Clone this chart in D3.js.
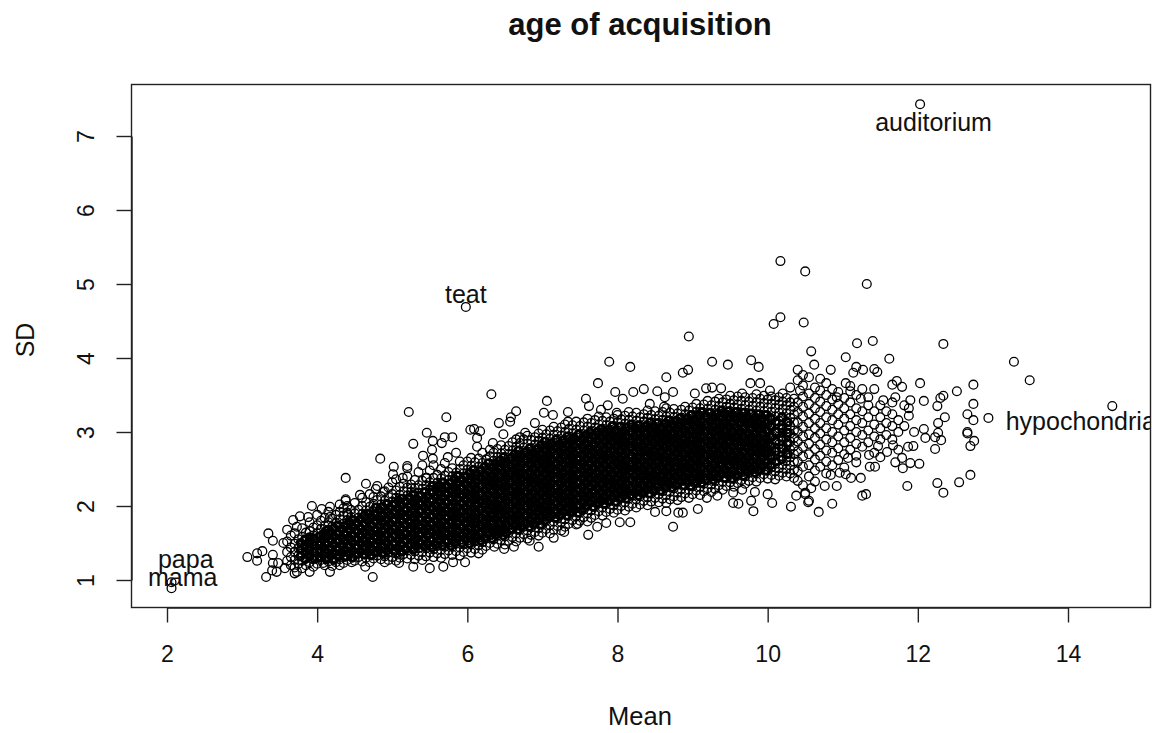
<!DOCTYPE html>
<html><head><meta charset="utf-8">
<script src="https://cdn.jsdelivr.net/npm/d3@7"></script>
<style>html,body{margin:0;background:#fff}svg{display:block}text{font-family:"Liberation Sans",Arial,sans-serif;fill:#111}</style>
</head><body><div id="chart"></div>
<script>
const chartTitle = "age of acquisition";
const xLabel = "Mean";
const yLabel = "SD";
const xTicks = [2,4,6,8,10,12,14];
const yTicks = [1,2,3,4,5,6,7];
const wordLabels = [["auditorium",12.21,7.18],["teat",5.98,4.86],["hypochondria",14.17,3.15],["papa",2.25,1.28],["mama",2.21,1.04]];
const namedPoints = [[12.03,7.43],[5.98,4.69],[14.59,3.35],[2.06,0.97],[2.06,0.89]];
const highPoints = [[10.17,5.31],[10.5,5.17],[11.32,5.0],[10.08,4.46],[10.17,4.55],[10.48,4.48],[8.95,4.29],[13.28,3.95],[13.49,3.7],[6.32,3.51],[7.89,3.95],[8.17,3.88],[7.74,3.66],[8.65,3.74],[8.87,3.8],[8.94,3.84],[9.26,3.95],[9.47,3.91],[9.78,3.97],[9.88,3.88],[7.06,3.42],[7.58,3.45],[7.62,3.35],[7.97,3.54],[8.21,3.54],[8.35,3.58],[8.53,3.55],[8.74,3.54],[9.03,3.52],[9.18,3.59],[9.26,3.6],[9.38,3.59],[9.77,3.66],[9.9,3.66],[6.65,3.28],[6.58,3.2],[6.57,3.14],[6.42,3.12],[6.09,3.04],[6.17,3.01],[6.13,2.92],[6.13,2.8],[6.9,3.12],[7.02,3.26],[7.14,3.23],[7.34,3.27],[7.34,3.14],[6.77,2.99],[6.7,2.93],[6.48,2.97],[6.34,2.85],[7.78,3.3],[7.87,3.36],[7.99,3.26],[8.07,3.45],[8.43,3.38],[8.62,3.34],[8.63,3.47],[10.3,3.6],[10.43,3.56],[10.03,3.56],[9.66,3.52]];
const leftPoints = [[5.22,3.27],[5.72,3.2],[6.04,3.03],[5.46,2.99],[5.28,2.84],[5.54,2.88],[5.8,2.93],[5.7,2.93],[5.66,2.85],[5.53,2.76],[5.41,2.68],[5.54,2.64],[5.74,2.66],[4.84,2.64],[5.02,2.53],[5.2,2.54],[5.2,2.51],[5.01,2.43],[5.0,2.32],[5.14,2.38],[4.38,2.38],[4.65,2.3],[4.78,2.23],[4.57,2.15],[4.38,2.09],[4.38,2.07],[4.88,2.19],[5.26,2.24],[5.46,2.38],[3.93,2.0],[4.06,1.96],[4.17,1.99],[4.3,1.92],[4.41,1.88],[3.77,1.86],[3.68,1.81],[3.88,1.85],[4.17,1.85],[3.6,1.68],[3.73,1.72],[3.35,1.63],[3.41,1.53],[3.27,1.39],[3.2,1.36],[3.07,1.31],[3.2,1.26],[3.41,1.34],[3.55,1.5],[3.32,1.04],[3.4,1.13],[3.41,1.23],[3.48,1.23],[3.57,1.16],[3.7,1.09],[3.9,1.11],[4.17,1.11],[4.46,1.24],[4.64,1.18],[4.74,1.04],[4.9,1.24],[5.09,1.23],[5.28,1.18],[5.5,1.16],[5.68,1.18],[5.81,1.24],[5.97,1.24],[4.3,1.2],[4.08,1.23],[3.73,1.11],[3.46,1.11]];
const lowPoints = [[8.74,1.72],[7.61,1.61],[6.95,1.45],[6.49,1.42],[6.62,1.45],[6.36,1.45],[6.83,1.53],[7.15,1.57],[7.29,1.65],[7.47,1.76],[7.73,1.72],[7.85,1.77],[8.03,1.78],[8.17,1.78],[8.5,1.92],[8.65,1.93],[8.81,1.91],[8.87,1.91],[9.07,1.96],[9.19,2.11],[9.33,2.14],[9.54,2.18],[9.54,2.04],[9.61,2.03],[9.78,2.07],[9.81,1.93],[10.06,2.04],[10.0,2.16],[10.31,1.99],[10.38,2.14],[10.5,2.16],[10.54,2.05],[9.83,2.19],[9.66,2.22]];
const rightPoints = [[11.19,4.2],[11.4,4.23],[12.34,4.19],[10.58,4.09],[11.04,4.01],[11.62,3.99],[10.62,3.91],[11.18,3.88],[10.84,3.84],[11.27,3.84],[11.42,3.85],[11.46,3.81],[11.14,3.8],[12.74,3.64],[12.52,3.55],[12.03,3.66],[11.72,3.69],[11.66,3.64],[11.79,3.61],[11.04,3.66],[11.1,3.55],[11.7,3.47],[12.34,3.49],[12.3,3.46],[12.08,3.42],[11.9,3.43],[11.54,3.43],[11.34,3.47],[11.24,3.45],[10.92,3.47],[12.74,3.38],[12.66,3.24],[12.74,3.16],[12.94,3.19],[12.26,3.35],[11.88,3.22],[11.88,3.32],[12.36,3.2],[12.27,3.12],[12.27,2.99],[12.23,2.93],[12.31,2.89],[12.66,3.0],[12.66,2.98],[12.75,2.88],[12.7,2.81],[12.23,2.77],[12.1,2.92],[12.08,3.04],[11.95,3.0],[11.94,2.81],[11.87,2.8],[11.67,2.82],[11.59,2.73],[11.47,2.81],[11.35,2.69],[12.02,2.57],[11.9,2.58],[11.79,2.65],[11.7,2.59],[11.8,2.51],[11.43,2.53],[11.36,2.53],[11.18,2.59],[11.07,2.65],[12.7,2.42],[12.55,2.32],[12.26,2.31],[12.34,2.18],[11.86,2.27],[11.31,2.16],[11.26,2.14],[11.24,2.38],[11.11,2.38],[11.04,2.43],[10.96,2.45],[10.84,2.42],[10.92,2.27],[10.76,2.27],[10.58,2.24],[10.55,2.07],[10.86,2.03],[10.68,1.92],[10.5,2.18]];
const sparseColumns = [
[10.4,[2.34,2.47,2.6,2.74,2.87,3.0,3.13,3.27,3.4,3.7,3.84]],
[10.47,[2.28,2.53,2.67,2.8,2.94,3.07,3.21,3.34,3.48,3.63,3.77]],
[10.55,[2.4,2.55,2.7,2.84,2.97,3.12,3.25,3.38,3.52,3.74]],
[10.63,[2.33,2.48,2.63,2.77,2.92,3.05,3.18,3.32,3.46,3.6]],
[10.7,[2.53,2.68,2.83,2.98,3.12,3.27,3.41,3.56,3.72]],
[10.78,[2.44,2.6,2.75,2.9,3.05,3.2,3.35,3.5,3.66]],
[10.86,[2.55,2.72,2.86,3.0,3.16,3.3,3.44,3.58]],
[10.94,[2.62,2.78,2.94,3.1,3.24,3.38,3.54]],
[11.02,[2.52,2.7,2.86,3.02,3.18,3.32,3.46]],
[11.1,[2.76,2.92,3.08,3.24,3.4,3.62]],
[11.18,[2.68,2.84,3.0,3.16,3.32,3.5]],
[11.26,[2.8,2.96,3.12,3.28,3.58]],
[11.34,[2.86,3.02,3.2,3.36]],
[11.42,[2.72,2.94,3.1,3.28,3.58]],
[11.5,[2.66,2.9,3.05,3.2,3.36]],
[11.58,[2.96,3.12,3.28]],
[11.66,[2.9,3.08,3.24,3.4]],
[11.74,[2.76,3.0,3.16]],
[11.82,[3.08,3.36]]];
const sdColumns = [
[3.6,[1.26,1.38,1.52]],
[3.65,[1.2,1.31,1.44,1.6]],
[3.7,[1.17,1.27,1.38,1.49,1.63]],
[3.75,[1.22,1.33,1.43,1.55]],
[3.8,[1.16,1.26,1.36,1.47,1.58,1.7]],
[3.85,[1.2,1.3,1.41,1.52,1.64]],
[3.9,[1.24,1.34,1.44,1.55,1.66,1.78]],
[3.95,[1.18,1.28,1.38,1.49,1.6,1.71]],
[4.0,[1.22,1.32,1.42,1.52,1.63,1.74,1.88]],
[4.05,[1.27,1.37,1.47,1.58,1.69,1.8]],
[4.1,[1.2,1.31,1.41,1.52,1.63,1.73,1.84]],
[4.15,[1.25,1.36,1.46,1.57,1.68,1.78,1.92]],
[4.2,[1.19,1.3,1.4,1.51,1.62,1.72,1.83]],
[4.25,[1.24,1.35,1.45,1.56,1.67,1.77,1.88]],
[4.3,[1.28,1.39,1.5,1.6,1.71,1.82,2.02]],
[4.35,[1.23,1.33,1.44,1.55,1.66,1.76,1.87,1.97]],
[4.4,[1.27,1.38,1.49,1.59,1.7,1.81,1.91,2.0]],
[4.45,[1.32,1.43,1.53,1.64,1.75,1.85,1.95]],
[4.5,[1.26,1.37,1.47,1.58,1.69,1.8,1.9,2.04]],
[4.55,[1.31,1.42,1.52,1.63,1.74,1.84,1.95]],
[4.6,[1.25,1.36,1.46,1.57,1.68,1.78,1.89,2.0,2.11]],
[4.65,[1.3,1.41,1.51,1.62,1.73,1.83,1.94,2.05]],
[4.7,[1.24,1.35,1.45,1.56,1.67,1.77,1.88,1.99,2.16]],
[4.75,[1.29,1.39,1.5,1.61,1.71,1.82,1.93,2.03,2.12]],
[4.8,[1.33,1.44,1.54,1.65,1.76,1.86,1.97,2.08,2.27]],
[4.85,[1.28,1.38,1.49,1.6,1.7,1.81,1.91,2.02,2.13]],
[4.9,[1.32,1.43,1.53,1.64,1.75,1.85,1.96,2.07,2.2]],
[4.95,[1.27,1.37,1.48,1.59,1.69,1.8,1.9,2.01,2.12,2.25]],
[5.0,[1.31,1.42,1.52,1.63,1.74,1.84,1.95,2.06,2.16]],
[5.05,[1.26,1.36,1.47,1.58,1.68,1.79,1.89,2.0,2.11,2.21,2.36]],
[5.1,[1.3,1.41,1.51,1.62,1.73,1.83,1.94,2.05,2.15,2.26]],
[5.15,[1.35,1.45,1.56,1.67,1.77,1.88,1.98,2.09,2.2,2.3]],
[5.2,[1.29,1.4,1.5,1.61,1.72,1.82,1.93,2.04,2.14,2.25,2.4]],
[5.25,[1.34,1.44,1.55,1.66,1.76,1.87,1.97,2.08,2.19,2.29]],
[5.3,[1.28,1.39,1.49,1.6,1.71,1.81,1.92,2.03,2.13,2.24,2.35]],
[5.35,[1.33,1.43,1.54,1.65,1.75,1.86,1.96,2.07,2.18,2.28,2.46]],
[5.4,[1.27,1.38,1.48,1.59,1.7,1.8,1.91,2.02,2.12,2.23,2.34,2.55]],
[5.45,[1.32,1.43,1.53,1.64,1.74,1.85,1.96,2.06,2.17,2.28,2.38]],
[5.5,[1.37,1.47,1.58,1.69,1.79,1.9,2.0,2.11,2.22,2.32,2.48]],
[5.55,[1.31,1.42,1.52,1.63,1.74,1.84,1.95,2.06,2.16,2.27,2.38,2.55]],
[5.6,[1.36,1.46,1.57,1.68,1.78,1.89,1.99,2.1,2.21,2.31,2.42]],
[5.65,[1.3,1.41,1.51,1.62,1.73,1.83,1.94,2.05,2.15,2.26,2.37,2.5]],
[5.7,[1.35,1.45,1.56,1.67,1.77,1.88,1.98,2.09,2.2,2.3,2.41,2.58]],
[5.75,[1.4,1.5,1.61,1.71,1.82,1.93,2.03,2.14,2.25,2.35,2.46]],
[5.8,[1.34,1.45,1.55,1.66,1.77,1.87,1.98,2.08,2.19,2.3,2.4,2.51]],
[5.85,[1.39,1.49,1.6,1.71,1.81,1.92,2.02,2.13,2.24,2.34,2.45,2.72]],
[5.9,[1.33,1.44,1.54,1.65,1.76,1.86,1.97,2.07,2.18,2.29,2.39,2.5,2.6]],
[5.95,[1.38,1.48,1.59,1.7,1.8,1.91,2.01,2.12,2.23,2.33,2.44,2.55]],
[6.0,[1.43,1.53,1.64,1.75,1.85,1.96,2.06,2.17,2.28,2.38,2.49,2.6]],
[6.05,[1.37,1.48,1.58,1.69,1.8,1.9,2.01,2.11,2.22,2.33,2.43,2.54,2.65]],
[6.1,[1.42,1.52,1.63,1.74,1.84,1.95,2.05,2.16,2.27,2.37,2.48,2.59]],
[6.15,[1.36,1.47,1.57,1.68,1.79,1.89,2.0,2.1,2.21,2.32,2.42,2.53,2.64]],
[6.2,[1.41,1.51,1.62,1.73,1.83,1.94,2.04,2.15,2.26,2.36,2.47,2.58,2.72]],
[6.25,[1.46,1.56,1.67,1.77,1.88,1.99,2.09,2.2,2.31,2.41,2.52,2.63]],
[6.3,[1.5,1.61,1.71,1.82,1.93,2.03,2.14,2.25,2.35,2.46,2.57,2.67,2.76]],
[6.35,[1.55,1.66,1.76,1.87,1.98,2.08,2.19,2.29,2.4,2.51,2.61,2.72]],
[6.4,[1.49,1.6,1.7,1.81,1.92,2.02,2.13,2.24,2.34,2.45,2.56,2.66,2.77]],
[6.45,[1.54,1.65,1.75,1.86,1.97,2.07,2.18,2.29,2.39,2.5,2.61,2.71,2.82]],
[6.5,[1.48,1.59,1.7,1.8,1.91,2.02,2.12,2.23,2.34,2.44,2.55,2.66,2.76]],
[6.55,[1.53,1.64,1.74,1.85,1.96,2.06,2.17,2.28,2.38,2.49,2.6,2.7,2.81]],
[6.6,[1.58,1.69,1.79,1.9,2.01,2.11,2.22,2.33,2.43,2.54,2.65,2.75,2.86]],
[6.65,[1.52,1.63,1.73,1.84,1.95,2.05,2.16,2.27,2.37,2.48,2.59,2.69,2.8,2.9]],
[6.7,[1.57,1.68,1.78,1.89,2.0,2.1,2.21,2.32,2.42,2.53,2.64,2.74,2.85]],
[6.75,[1.62,1.72,1.83,1.94,2.04,2.15,2.26,2.36,2.47,2.58,2.68,2.79,2.9]],
[6.8,[1.56,1.67,1.77,1.88,1.99,2.09,2.2,2.31,2.41,2.52,2.63,2.73,2.84,2.95]],
[6.85,[1.61,1.71,1.82,1.93,2.03,2.14,2.25,2.35,2.46,2.57,2.67,2.78,2.89]],
[6.9,[1.65,1.76,1.87,1.97,2.08,2.19,2.29,2.4,2.51,2.61,2.72,2.83,2.93]],
[6.95,[1.6,1.7,1.81,1.92,2.02,2.13,2.24,2.34,2.45,2.56,2.66,2.77,2.88,2.98]],
[7.0,[1.64,1.75,1.86,1.96,2.07,2.18,2.28,2.39,2.5,2.6,2.71,2.82,2.92,3.03]],
[7.05,[1.69,1.8,1.9,2.01,2.12,2.22,2.33,2.44,2.54,2.65,2.76,2.86,2.97]],
[7.1,[1.63,1.74,1.85,1.95,2.06,2.17,2.27,2.38,2.49,2.59,2.7,2.81,2.91,3.02]],
[7.15,[1.68,1.79,1.89,2.0,2.11,2.21,2.32,2.43,2.53,2.64,2.75,2.85,2.96,3.07]],
[7.2,[1.73,1.83,1.94,2.05,2.15,2.26,2.37,2.47,2.58,2.69,2.79,2.9,3.01]],
[7.25,[1.67,1.78,1.88,1.99,2.1,2.2,2.31,2.42,2.52,2.63,2.74,2.84,2.95,3.06]],
[7.3,[1.72,1.82,1.93,2.04,2.14,2.25,2.36,2.46,2.57,2.68,2.78,2.89,3.0,3.1]],
[7.35,[1.76,1.87,1.98,2.08,2.19,2.3,2.4,2.51,2.62,2.72,2.83,2.94,3.04]],
[7.4,[1.81,1.92,2.02,2.13,2.24,2.34,2.45,2.56,2.66,2.77,2.88,2.98,3.09]],
[7.45,[1.75,1.86,1.97,2.07,2.18,2.29,2.39,2.5,2.61,2.71,2.82,2.93,3.03,3.14]],
[7.5,[1.8,1.91,2.01,2.12,2.23,2.33,2.44,2.55,2.65,2.76,2.87,2.97,3.08]],
[7.55,[1.85,1.95,2.06,2.17,2.27,2.38,2.49,2.59,2.7,2.81,2.91,3.02,3.13]],
[7.6,[1.79,1.9,2.0,2.11,2.22,2.32,2.43,2.54,2.64,2.75,2.86,2.96,3.07,3.18]],
[7.65,[1.84,1.94,2.05,2.16,2.26,2.37,2.48,2.58,2.69,2.8,2.9,3.01,3.12]],
[7.7,[1.88,1.99,2.1,2.2,2.31,2.42,2.52,2.63,2.74,2.84,2.95,3.06,3.16]],
[7.75,[1.93,2.04,2.14,2.25,2.36,2.46,2.57,2.68,2.78,2.89,3.0,3.1,3.21]],
[7.8,[1.87,1.98,2.08,2.19,2.3,2.4,2.51,2.62,2.72,2.83,2.94,3.04,3.15]],
[7.85,[1.92,2.03,2.13,2.24,2.35,2.45,2.56,2.67,2.77,2.88,2.99,3.09,3.2]],
[7.9,[1.96,2.07,2.18,2.28,2.39,2.5,2.6,2.71,2.82,2.92,3.03,3.14]],
[7.95,[1.91,2.01,2.12,2.23,2.33,2.44,2.55,2.65,2.76,2.87,2.97,3.08,3.18]],
[8.0,[1.95,2.06,2.17,2.27,2.38,2.49,2.59,2.7,2.81,2.91,3.02,3.13,3.23]],
[8.05,[2.0,2.11,2.21,2.32,2.43,2.53,2.64,2.75,2.85,2.96,3.07,3.17]],
[8.1,[1.94,2.05,2.15,2.26,2.37,2.47,2.58,2.69,2.79,2.9,3.01,3.11,3.22]],
[8.15,[1.99,2.1,2.2,2.31,2.42,2.52,2.63,2.74,2.84,2.95,3.06,3.16,3.27]],
[8.2,[2.03,2.14,2.25,2.35,2.46,2.57,2.67,2.78,2.89,2.99,3.1,3.21]],
[8.25,[1.98,2.09,2.19,2.3,2.41,2.51,2.62,2.73,2.83,2.94,3.05,3.15,3.26]],
[8.3,[2.02,2.13,2.24,2.34,2.45,2.56,2.66,2.77,2.88,2.98,3.09,3.2]],
[8.35,[2.07,2.18,2.28,2.39,2.5,2.6,2.71,2.82,2.92,3.03,3.14,3.24]],
[8.4,[2.01,2.12,2.23,2.33,2.44,2.55,2.65,2.76,2.87,2.97,3.08,3.19,3.29]],
[8.45,[2.06,2.17,2.27,2.38,2.49,2.59,2.7,2.81,2.91,3.02,3.13,3.23]],
[8.5,[2.11,2.21,2.32,2.43,2.53,2.64,2.75,2.85,2.96,3.07,3.17,3.28]],
[8.55,[2.05,2.16,2.26,2.37,2.48,2.58,2.69,2.8,2.9,3.01,3.12,3.22]],
[8.6,[2.1,2.2,2.31,2.42,2.52,2.63,2.74,2.84,2.95,3.06,3.16,3.27]],
[8.65,[2.04,2.15,2.25,2.36,2.47,2.57,2.68,2.79,2.89,3.0,3.11,3.21,3.32]],
[8.7,[2.09,2.19,2.3,2.41,2.51,2.62,2.73,2.83,2.94,3.05,3.15,3.26]],
[8.75,[2.13,2.24,2.35,2.45,2.56,2.67,2.77,2.88,2.99,3.09,3.2,3.31]],
[8.8,[2.08,2.18,2.29,2.4,2.5,2.61,2.72,2.82,2.93,3.04,3.14,3.25]],
[8.85,[2.12,2.23,2.34,2.44,2.55,2.66,2.76,2.87,2.98,3.08,3.19,3.3]],
[8.9,[2.17,2.28,2.38,2.49,2.6,2.7,2.81,2.92,3.02,3.13,3.24,3.34]],
[8.95,[2.11,2.22,2.33,2.43,2.54,2.65,2.75,2.86,2.97,3.07,3.18,3.29]],
[9.0,[2.16,2.27,2.37,2.48,2.59,2.69,2.8,2.91,3.01,3.12,3.23,3.33]],
[9.05,[2.21,2.31,2.42,2.53,2.63,2.74,2.85,2.95,3.06,3.17,3.27,3.38]],
[9.1,[2.15,2.26,2.36,2.47,2.58,2.68,2.79,2.9,3.0,3.11,3.22,3.32]],
[9.15,[2.2,2.3,2.41,2.52,2.62,2.73,2.84,2.94,3.05,3.16,3.26,3.37]],
[9.2,[2.24,2.35,2.46,2.56,2.67,2.78,2.88,2.99,3.1,3.2,3.31,3.42]],
[9.25,[2.19,2.29,2.4,2.51,2.61,2.72,2.83,2.93,3.04,3.15,3.25,3.36]],
[9.3,[2.23,2.34,2.45,2.55,2.66,2.77,2.87,2.98,3.09,3.19,3.3,3.41]],
[9.35,[2.28,2.39,2.49,2.6,2.71,2.81,2.92,3.03,3.13,3.24,3.35,3.45]],
[9.4,[2.22,2.33,2.44,2.54,2.65,2.76,2.86,2.97,3.08,3.18,3.29,3.4]],
[9.45,[2.27,2.38,2.48,2.59,2.7,2.8,2.91,3.02,3.12,3.23,3.34,3.44]],
[9.5,[2.32,2.42,2.53,2.64,2.74,2.85,2.96,3.06,3.17,3.28,3.38,3.49]],
[9.55,[2.26,2.37,2.47,2.58,2.69,2.79,2.9,3.01,3.11,3.22,3.33,3.43]],
[9.6,[2.31,2.41,2.52,2.63,2.73,2.84,2.95,3.05,3.16,3.27,3.37,3.48]],
[9.65,[2.35,2.46,2.57,2.67,2.78,2.89,2.99,3.1,3.21,3.31,3.42]],
[9.7,[2.3,2.4,2.51,2.62,2.72,2.83,2.94,3.04,3.15,3.26,3.36,3.47]],
[9.75,[2.34,2.45,2.56,2.66,2.77,2.88,2.98,3.09,3.2,3.3,3.41]],
[9.8,[2.39,2.5,2.6,2.71,2.82,2.92,3.03,3.14,3.24,3.35,3.46]],
[9.85,[2.33,2.44,2.55,2.65,2.76,2.87,2.97,3.08,3.19,3.29,3.4,3.51]],
[9.9,[2.38,2.49,2.59,2.7,2.81,2.91,3.02,3.13,3.23,3.34,3.45]],
[9.95,[2.43,2.53,2.64,2.75,2.85,2.96,3.07,3.17,3.28,3.39,3.49]],
[10.0,[2.37,2.48,2.58,2.69,2.8,2.9,3.01,3.12,3.22,3.33,3.44]],
[10.05,[2.42,2.52,2.63,2.74,2.84,2.95,3.06,3.16,3.27,3.38,3.48]],
[10.1,[2.36,2.47,2.57,2.68,2.79,2.89,3.0,3.11,3.21,3.32,3.43]],
[10.15,[2.41,2.51,2.62,2.73,2.83,2.94,3.05,3.15,3.26,3.37,3.47]],
[10.2,[2.45,2.56,2.67,2.77,2.88,2.99,3.09,3.2,3.31,3.41,3.52]],
[10.25,[2.4,2.5,2.61,2.72,2.82,2.93,3.04,3.14,3.25,3.36,3.46]],
[10.3,[2.44,2.55,2.66,2.76,2.87,2.98,3.08,3.19,3.3,3.4]],
[10.35,[2.38,2.49,2.6,2.7,2.81,2.92,3.02,3.13,3.24,3.34,3.45]]];
const denseColumns = [
[3.78,[1.32,1.41,1.5]],
[3.84,[1.28,1.37,1.46,1.55]],
[3.9,[1.32,1.4,1.5,1.58]],
[3.96,[1.29,1.38,1.47,1.56]],
[4.03,[1.3,1.39,1.47,1.59]],
[4.08,[1.34,1.44,1.55,1.62]],
[4.12,[1.28,1.37,1.49,1.58,1.67]],
[4.18,[1.33,1.43,1.54,1.65]],
[4.22,[1.27,1.36,1.48,1.59,1.7]],
[4.28,[1.32,1.42,1.52,1.63,1.74]],
[4.33,[1.37,1.47,1.57,1.69]],
[4.37,[1.31,1.41,1.53,1.62,1.73]],
[4.43,[1.36,1.46,1.56,1.68,1.78]],
[4.47,[1.3,1.4,1.51,1.61,1.72,1.81]],
[4.53,[1.35,1.45,1.55,1.66,1.77]],
[4.58,[1.39,1.5,1.6,1.7,1.82]],
[4.63,[1.34,1.44,1.54,1.65,1.76,1.87]],
[4.68,[1.38,1.48,1.59,1.69,1.8,1.9]],
[4.72,[1.33,1.43,1.53,1.64,1.74,1.85]],
[4.78,[1.37,1.47,1.58,1.68,1.79,1.89,1.98]],
[4.83,[1.41,1.52,1.62,1.73,1.83,1.94]],
[4.87,[1.36,1.46,1.56,1.67,1.78,1.88,1.99]],
[4.93,[1.4,1.5,1.61,1.72,1.82,1.92,2.03]],
[4.97,[1.44,1.55,1.66,1.76,1.87,1.97]],
[5.03,[1.39,1.49,1.6,1.7,1.81,1.91,2.02]],
[5.08,[1.43,1.54,1.64,1.75,1.86,1.96,2.07]],
[5.12,[1.38,1.48,1.59,1.69,1.8,1.9,2.01,2.1]],
[5.18,[1.42,1.53,1.63,1.74,1.85,1.95,2.06]],
[5.23,[1.47,1.57,1.68,1.78,1.89,2.0,2.11]],
[5.28,[1.41,1.52,1.62,1.73,1.84,1.94,2.05,2.16]],
[5.32,[1.46,1.56,1.67,1.77,1.88,1.99,2.09]],
[5.37,[1.5,1.61,1.72,1.82,1.93,2.03,2.14]],
[5.43,[1.45,1.55,1.66,1.76,1.87,1.98,2.08,2.19]],
[5.47,[1.49,1.6,1.7,1.81,1.92,2.02,2.13]],
[5.53,[1.44,1.54,1.65,1.75,1.86,1.97,2.07,2.18,2.27]],
[5.58,[1.48,1.59,1.69,1.8,1.91,2.01,2.12,2.23]],
[5.63,[1.53,1.63,1.74,1.85,1.95,2.06,2.17,2.27]],
[5.67,[1.47,1.58,1.68,1.79,1.9,2.0,2.11,2.22,2.32]],
[5.73,[1.52,1.62,1.73,1.84,1.94,2.05,2.16,2.26]],
[5.78,[1.46,1.57,1.67,1.78,1.89,1.99,2.1,2.21,2.31]],
[5.83,[1.51,1.61,1.72,1.83,1.93,2.04,2.15,2.25,2.36]],
[5.87,[1.56,1.66,1.77,1.87,1.98,2.09,2.19,2.3,2.41]],
[5.93,[1.5,1.6,1.71,1.82,1.92,2.03,2.14,2.24,2.35]],
[5.98,[1.55,1.65,1.76,1.86,1.97,2.08,2.18,2.29,2.4]],
[6.03,[1.49,1.59,1.7,1.81,1.91,2.02,2.13,2.23,2.34,2.45]],
[6.08,[1.54,1.64,1.75,1.85,1.96,2.07,2.17,2.28,2.39,2.49]],
[6.12,[1.58,1.69,1.79,1.9,2.01,2.11,2.22,2.33,2.43]],
[6.18,[1.53,1.63,1.74,1.84,1.95,2.06,2.16,2.27,2.38,2.48]],
[6.23,[1.57,1.68,1.78,1.89,2.0,2.1,2.21,2.32,2.42,2.53]],
[6.28,[1.62,1.72,1.83,1.94,2.04,2.15,2.26,2.36,2.47,2.58]],
[6.33,[1.56,1.67,1.77,1.88,1.99,2.09,2.2,2.31,2.41,2.52]],
[6.38,[1.61,1.71,1.82,1.93,2.03,2.14,2.25,2.35,2.46,2.57]],
[6.42,[1.65,1.76,1.87,1.97,2.08,2.19,2.29,2.4,2.51,2.61]],
[6.48,[1.6,1.7,1.81,1.92,2.02,2.13,2.24,2.34,2.45,2.56,2.66]],
[6.52,[1.64,1.75,1.86,1.96,2.07,2.18,2.28,2.39,2.5,2.6]],
[6.58,[1.69,1.8,1.9,2.01,2.12,2.22,2.33,2.44,2.54,2.65]],
[6.63,[1.74,1.84,1.95,2.06,2.16,2.27,2.38,2.48,2.59,2.7]],
[6.68,[1.68,1.79,1.89,2.0,2.11,2.21,2.32,2.43,2.53,2.64,2.75]],
[6.72,[1.73,1.83,1.94,2.05,2.15,2.26,2.37,2.47,2.58,2.69]],
[6.78,[1.77,1.88,1.99,2.09,2.2,2.31,2.41,2.52,2.63,2.73]],
[6.83,[1.72,1.82,1.93,2.04,2.14,2.25,2.36,2.46,2.57,2.68,2.78]],
[6.88,[1.76,1.87,1.98,2.08,2.19,2.3,2.4,2.51,2.62,2.72]],
[6.93,[1.81,1.92,2.02,2.13,2.24,2.34,2.45,2.56,2.66,2.77]],
[6.98,[1.75,1.86,1.97,2.07,2.18,2.29,2.39,2.5,2.61,2.71,2.82]],
[7.03,[1.8,1.91,2.01,2.12,2.23,2.33,2.44,2.55,2.65,2.76,2.87]],
[7.08,[1.85,1.95,2.06,2.17,2.27,2.38,2.49,2.59,2.7,2.81]],
[7.12,[1.89,2.0,2.11,2.21,2.32,2.43,2.53,2.64,2.75,2.85]],
[7.18,[1.84,1.94,2.05,2.16,2.26,2.37,2.48,2.58,2.69,2.8,2.9]],
[7.23,[1.88,1.99,2.1,2.2,2.31,2.42,2.52,2.63,2.74,2.84]],
[7.28,[1.93,2.04,2.14,2.25,2.36,2.46,2.57,2.68,2.78,2.89]],
[7.33,[1.87,1.98,2.08,2.19,2.3,2.4,2.51,2.62,2.72,2.83,2.94]],
[7.38,[1.92,2.03,2.13,2.24,2.35,2.45,2.56,2.67,2.77,2.88]],
[7.42,[1.96,2.07,2.18,2.28,2.39,2.5,2.6,2.71,2.82,2.92]],
[7.48,[1.91,2.01,2.12,2.23,2.33,2.44,2.55,2.65,2.76,2.87,2.97]],
[7.53,[1.95,2.06,2.17,2.27,2.38,2.49,2.59,2.7,2.81,2.91]],
[7.58,[2.0,2.11,2.21,2.32,2.43,2.53,2.64,2.75,2.85,2.96]],
[7.63,[2.05,2.15,2.26,2.37,2.47,2.58,2.69,2.79,2.9,3.0]],
[7.68,[1.99,2.1,2.2,2.31,2.42,2.52,2.63,2.74,2.84,2.95]],
[7.73,[2.04,2.14,2.25,2.36,2.46,2.57,2.68,2.78,2.89,3.0]],
[7.78,[2.08,2.19,2.3,2.4,2.51,2.62,2.72,2.83,2.94,3.04]],
[7.83,[2.03,2.13,2.24,2.35,2.45,2.56,2.67,2.77,2.88,2.99]],
[7.88,[2.07,2.18,2.29,2.39,2.5,2.61,2.71,2.82,2.93,3.03]],
[7.93,[2.12,2.23,2.33,2.44,2.55,2.65,2.76,2.87,2.97,3.08]],
[7.98,[2.06,2.17,2.28,2.38,2.49,2.6,2.7,2.81,2.92,3.02]],
[8.03,[2.11,2.22,2.32,2.43,2.54,2.64,2.75,2.86,2.96,3.07]],
[8.08,[2.16,2.26,2.37,2.48,2.58,2.69,2.8,2.9,3.01]],
[8.12,[2.1,2.21,2.31,2.42,2.53,2.63,2.74,2.85,2.95,3.06]],
[8.18,[2.15,2.25,2.36,2.47,2.57,2.68,2.79,2.89,3.0,3.1]],
[8.23,[2.19,2.3,2.41,2.51,2.62,2.73,2.83,2.94,3.05]],
[8.28,[2.14,2.24,2.35,2.46,2.56,2.67,2.78,2.88,2.99,3.09]],
[8.33,[2.18,2.29,2.4,2.5,2.61,2.72,2.82,2.93,3.04]],
[8.38,[2.23,2.34,2.44,2.55,2.66,2.76,2.87,2.98,3.08]],
[8.43,[2.17,2.28,2.39,2.49,2.6,2.71,2.81,2.92,3.03,3.13]],
[8.48,[2.22,2.33,2.43,2.54,2.65,2.75,2.86,2.97,3.07]],
[8.53,[2.27,2.37,2.48,2.59,2.69,2.8,2.91,3.01,3.12]],
[8.58,[2.21,2.32,2.42,2.53,2.64,2.74,2.85,2.96,3.06]],
[8.63,[2.26,2.36,2.47,2.58,2.68,2.79,2.9,3.0,3.11]],
[8.68,[2.3,2.41,2.52,2.62,2.73,2.84,2.94,3.05,3.16]],
[8.73,[2.25,2.35,2.46,2.57,2.67,2.78,2.89,2.99,3.1]],
[8.78,[2.29,2.4,2.51,2.61,2.72,2.83,2.93,3.04,3.15]],
[8.83,[2.34,2.45,2.55,2.66,2.77,2.87,2.98,3.09,3.19]],
[8.88,[2.28,2.39,2.5,2.6,2.71,2.82,2.92,3.03,3.14]],
[8.93,[2.33,2.44,2.54,2.65,2.76,2.86,2.97,3.08,3.18]],
[8.98,[2.27,2.38,2.49,2.59,2.7,2.81,2.91,3.02,3.13,3.23]],
[9.03,[2.32,2.43,2.53,2.64,2.75,2.85,2.96,3.07,3.17]],
[9.08,[2.37,2.47,2.58,2.69,2.79,2.9,3.01,3.11,3.22]],
[9.12,[2.31,2.42,2.52,2.63,2.74,2.84,2.95,3.06,3.16,3.27]],
[9.18,[2.36,2.46,2.57,2.68,2.78,2.89,3.0,3.1,3.21]],
[9.23,[2.4,2.51,2.62,2.72,2.83,2.94,3.04,3.15,3.26]],
[9.28,[2.35,2.45,2.56,2.67,2.77,2.88,2.99,3.09,3.2]],
[9.33,[2.39,2.5,2.61,2.71,2.82,2.93,3.03,3.14,3.25]],
[9.38,[2.44,2.55,2.65,2.76,2.87,2.97,3.08,3.19,3.29]],
[9.43,[2.38,2.49,2.6,2.7,2.81,2.92,3.02,3.13,3.24]],
[9.48,[2.43,2.54,2.64,2.75,2.86,2.96,3.07,3.18,3.28]],
[9.53,[2.37,2.48,2.59,2.69,2.8,2.91,3.01,3.12,3.23]],
[9.58,[2.42,2.53,2.63,2.74,2.85,2.95,3.06,3.17,3.27]],
[9.63,[2.47,2.57,2.68,2.79,2.89,3.0,3.11,3.21]],
[9.68,[2.41,2.52,2.62,2.73,2.84,2.94,3.05,3.16,3.26]],
[9.73,[2.46,2.56,2.67,2.78,2.88,2.99,3.1,3.2]],
[9.78,[2.5,2.61,2.72,2.82,2.93,3.04,3.14,3.25]],
[9.83,[2.45,2.55,2.66,2.77,2.87,2.98,3.09,3.19]],
[9.88,[2.49,2.6,2.71,2.81,2.92,3.03,3.13,3.24]],
[9.93,[2.54,2.65,2.75,2.86,2.97,3.07,3.18]],
[9.98,[2.48,2.59,2.7,2.8,2.91,3.02,3.12,3.23]],
[10.04,[2.55,2.68,2.81,2.93,3.08,3.19]],
[10.11,[2.6,2.74,2.87,3.0,3.14]],
[10.19,[2.63,2.78,2.92,3.05,3.2]],
[10.27,[2.7,2.85,2.99,3.13]]];

const width = 1152, height = 733;
const x = d3.scaleLinear().domain([2,14]).range([167,1068]);
const y = d3.scaleLinear().domain([1,7]).range([580,136]);
const box = {left:131.5,right:1150.5,top:84.5,bottom:607.5};
const svg = d3.select("#chart").append("svg").attr("width",width).attr("height",height);
svg.append("defs").append("clipPath").attr("id","plotClip").append("rect")
  .attr("x",box.left).attr("y",box.top).attr("width",box.right-box.left).attr("height",box.bottom-box.top);
const toPoints = cols => cols.flatMap(([m,s])=>s.map(v=>[m,v]));
const points = [...toPoints(sdColumns),...toPoints(sparseColumns),...highPoints,...leftPoints,...lowPoints,...rightPoints,...namedPoints];
const plot = svg.append("g").attr("clip-path","url(#plotClip)");
// Overlapping rings in the centre of the cloud merge into solid black in the reference; heavier rings reproduce that.
plot.append("g").selectAll("circle").data(toPoints(denseColumns)).join("circle")
  .attr("cx",d=>x(d[0])).attr("cy",d=>y(d[1])).attr("r",3.6)
  .attr("fill","none").attr("stroke","#000").attr("stroke-width",2.7);
plot.append("g").selectAll("circle").data(points).join("circle")
  .attr("cx",d=>x(d[0])).attr("cy",d=>y(d[1])).attr("r",4.4)
  .attr("fill","none").attr("stroke","#000").attr("stroke-width",1.3);
plot.append("g").selectAll("text").data(wordLabels).join("text")
  .attr("x",d=>x(d[1])).attr("y",d=>y(d[2])).attr("dy","0.35em").attr("text-anchor","middle")
  .attr("font-size",25).text(d=>d[0]);
svg.append("rect").attr("x",box.left).attr("y",box.top).attr("width",box.right-box.left).attr("height",box.bottom-box.top)
  .attr("fill","none").attr("stroke","#222").attr("stroke-width",1.4);
const xAxis = svg.append("g").attr("transform",`translate(0,${box.bottom})`)
  .call(d3.axisBottom(x).tickValues(xTicks).tickFormat(d3.format("d")).tickSize(15).tickSizeOuter(0).tickPadding(23));
const yAxis = svg.append("g").attr("transform",`translate(${box.left},0)`)
  .call(d3.axisLeft(y).tickValues(yTicks).tickFormat(d3.format("d")).tickSize(15).tickSizeOuter(0));
[xAxis,yAxis].forEach(a=>{a.selectAll("path,line").attr("stroke","#222").attr("stroke-width",1.4);
  a.selectAll("text").attr("font-size",23).attr("font-family",null).style("font-family",'"Liberation Sans",Arial,sans-serif').attr("fill","#111");});
yAxis.selectAll("text").attr("text-anchor","middle").attr("x",0).attr("dy",null)
  .attr("dominant-baseline","central").attr("transform","translate(-46,0) rotate(-90)");
svg.append("text").attr("x",640).attr("y",35).attr("text-anchor","middle").attr("font-size",31).attr("font-weight","bold").text(chartTitle);
svg.append("text").attr("x",640).attr("y",725).attr("text-anchor","middle").attr("font-size",25.5).text(xLabel);
svg.append("text").attr("transform","translate(34,340) rotate(-90)").attr("text-anchor","middle").attr("font-size",25).text(yLabel);
</script></body></html>
